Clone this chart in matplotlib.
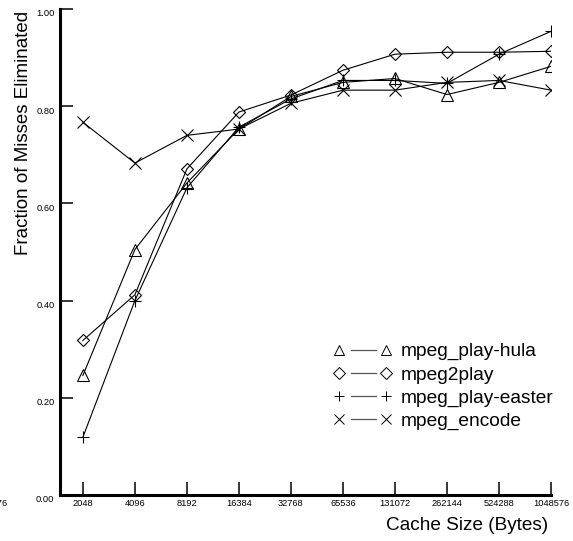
import matplotlib
matplotlib.use("Agg")
import matplotlib.pyplot as plt
import matplotlib.transforms as mtransforms
from matplotlib.legend_handler import HandlerBase
from matplotlib.lines import Line2D

cache_sizes = [2048, 4096, 8192, 16384, 32768, 65536, 131072, 262144, 524288, 1048576]

hula = [0.246, 0.505, 0.642, 0.753, 0.820, 0.849, 0.857, 0.824, 0.849, 0.882]
mpeg2play = [0.318, 0.412, 0.671, 0.788, 0.823, 0.874, 0.907, 0.911, 0.911, 0.913]
easter = [0.119, 0.400, 0.632, 0.757, 0.815, 0.853, 0.853, 0.847, 0.907, 0.954]
encode = [0.767, 0.683, 0.740, 0.753, 0.806, 0.833, 0.833, 0.849, 0.853, 0.833]

y_ticks = [0.0, 0.2, 0.4, 0.6, 0.8, 1.0]

series = [
    ("mpeg_play-hula", hula, "^", 9),
    ("mpeg2play", mpeg2play, "D", 6),
    ("mpeg_play-easter", easter, "+", 9),
    ("mpeg_encode", encode, "x", 8.5),
]


class GapHandler(HandlerBase):
    # marker, short line, marker -- with a little space between them
    def create_artists(self, legend, orig_handle, xdescent, ydescent,
                       width, height, fontsize, trans):
        y = height / 2 - ydescent
        x0 = -xdescent
        x1 = x0 + width
        edge = 0.09 * width
        gap = 0.3 * width
        scale = 1.0 if orig_handle.get_marker() == "D" else 0.78
        markers = Line2D([x0 + edge, x1 - edge], [y, y], linestyle="none",
                         marker=orig_handle.get_marker(),
                         markersize=orig_handle.get_markersize() * scale,
                         markerfacecolor="none", markeredgecolor="black",
                         markeredgewidth=0.7)
        line = Line2D([x0 + gap, x1 - gap * 0.9], [y, y], color="#555555", linewidth=0.9)
        markers.set_transform(trans)
        line.set_transform(trans)
        return [line, markers]


plt.rcParams["font.family"] = ["Liberation Sans", "DejaVu Sans"]

fig = plt.figure(figsize=(5.73, 5.41), dpi=100)
ax = fig.add_axes([60 / 573, 46 / 541, 491 / 573, 486 / 541])

handles = []
for name, values, marker, size in series:
    (line,) = ax.plot(
        cache_sizes,
        values,
        color="black",
        linewidth=0.8,
        marker=marker,
        markersize=size,
        markerfacecolor="none",
        markeredgecolor="black",
        markeredgewidth=0.8,
        label=name,
    )
    handles.append(line)

ax.set_xscale("log", base=2)
ax.set_xlim(cache_sizes[0] / 2 ** 0.44, cache_sizes[-1])
ax.set_ylim(0, 1)
ax.set_xticks(cache_sizes)
ax.set_xticklabels([str(s) for s in cache_sizes])
ax.minorticks_off()
ax.set_yticks(y_ticks)
ax.set_yticklabels([f"{v:.2f}" for v in y_ticks])

for side in ["top", "right"]:
    ax.spines[side].set_visible(False)
for side in ["left", "bottom"]:
    ax.spines[side].set_linewidth(2.2)

ax.tick_params(axis="both", direction="in", length=9.5, width=1.1, labelsize=6.7, pad=3)
ax.tick_params(axis="y", pad=4)

shift = mtransforms.ScaledTranslation(0, -4 / 100, fig.dpi_scale_trans)
for label in ax.get_yticklabels():
    label.set_transform(label.get_transform() + shift)

ax.set_ylabel("Fraction of Misses Eliminated", fontsize=13.5)
ax.yaxis.set_label_coords(-0.058, 0.745)
ax.set_xlabel("Cache Size (Bytes)", fontsize=13.7, ha="center")
ax.xaxis.set_label_coords(0.829, -0.045)

ax.legend(
    handles=handles,
    handler_map={h: GapHandler() for h in handles},
    loc="lower right",
    bbox_to_anchor=(1.005, 0.133),
    frameon=False,
    fontsize=13.8,
    handlelength=3.0,
    handletextpad=0.5,
    labelspacing=0.3,
    borderpad=0,
    borderaxespad=0,
)

fig.text(7 / 573, 1 - 503 / 541, "1048576", ha="right", va="center", fontsize=6.7)

fig.savefig("out.png", dpi=100)
